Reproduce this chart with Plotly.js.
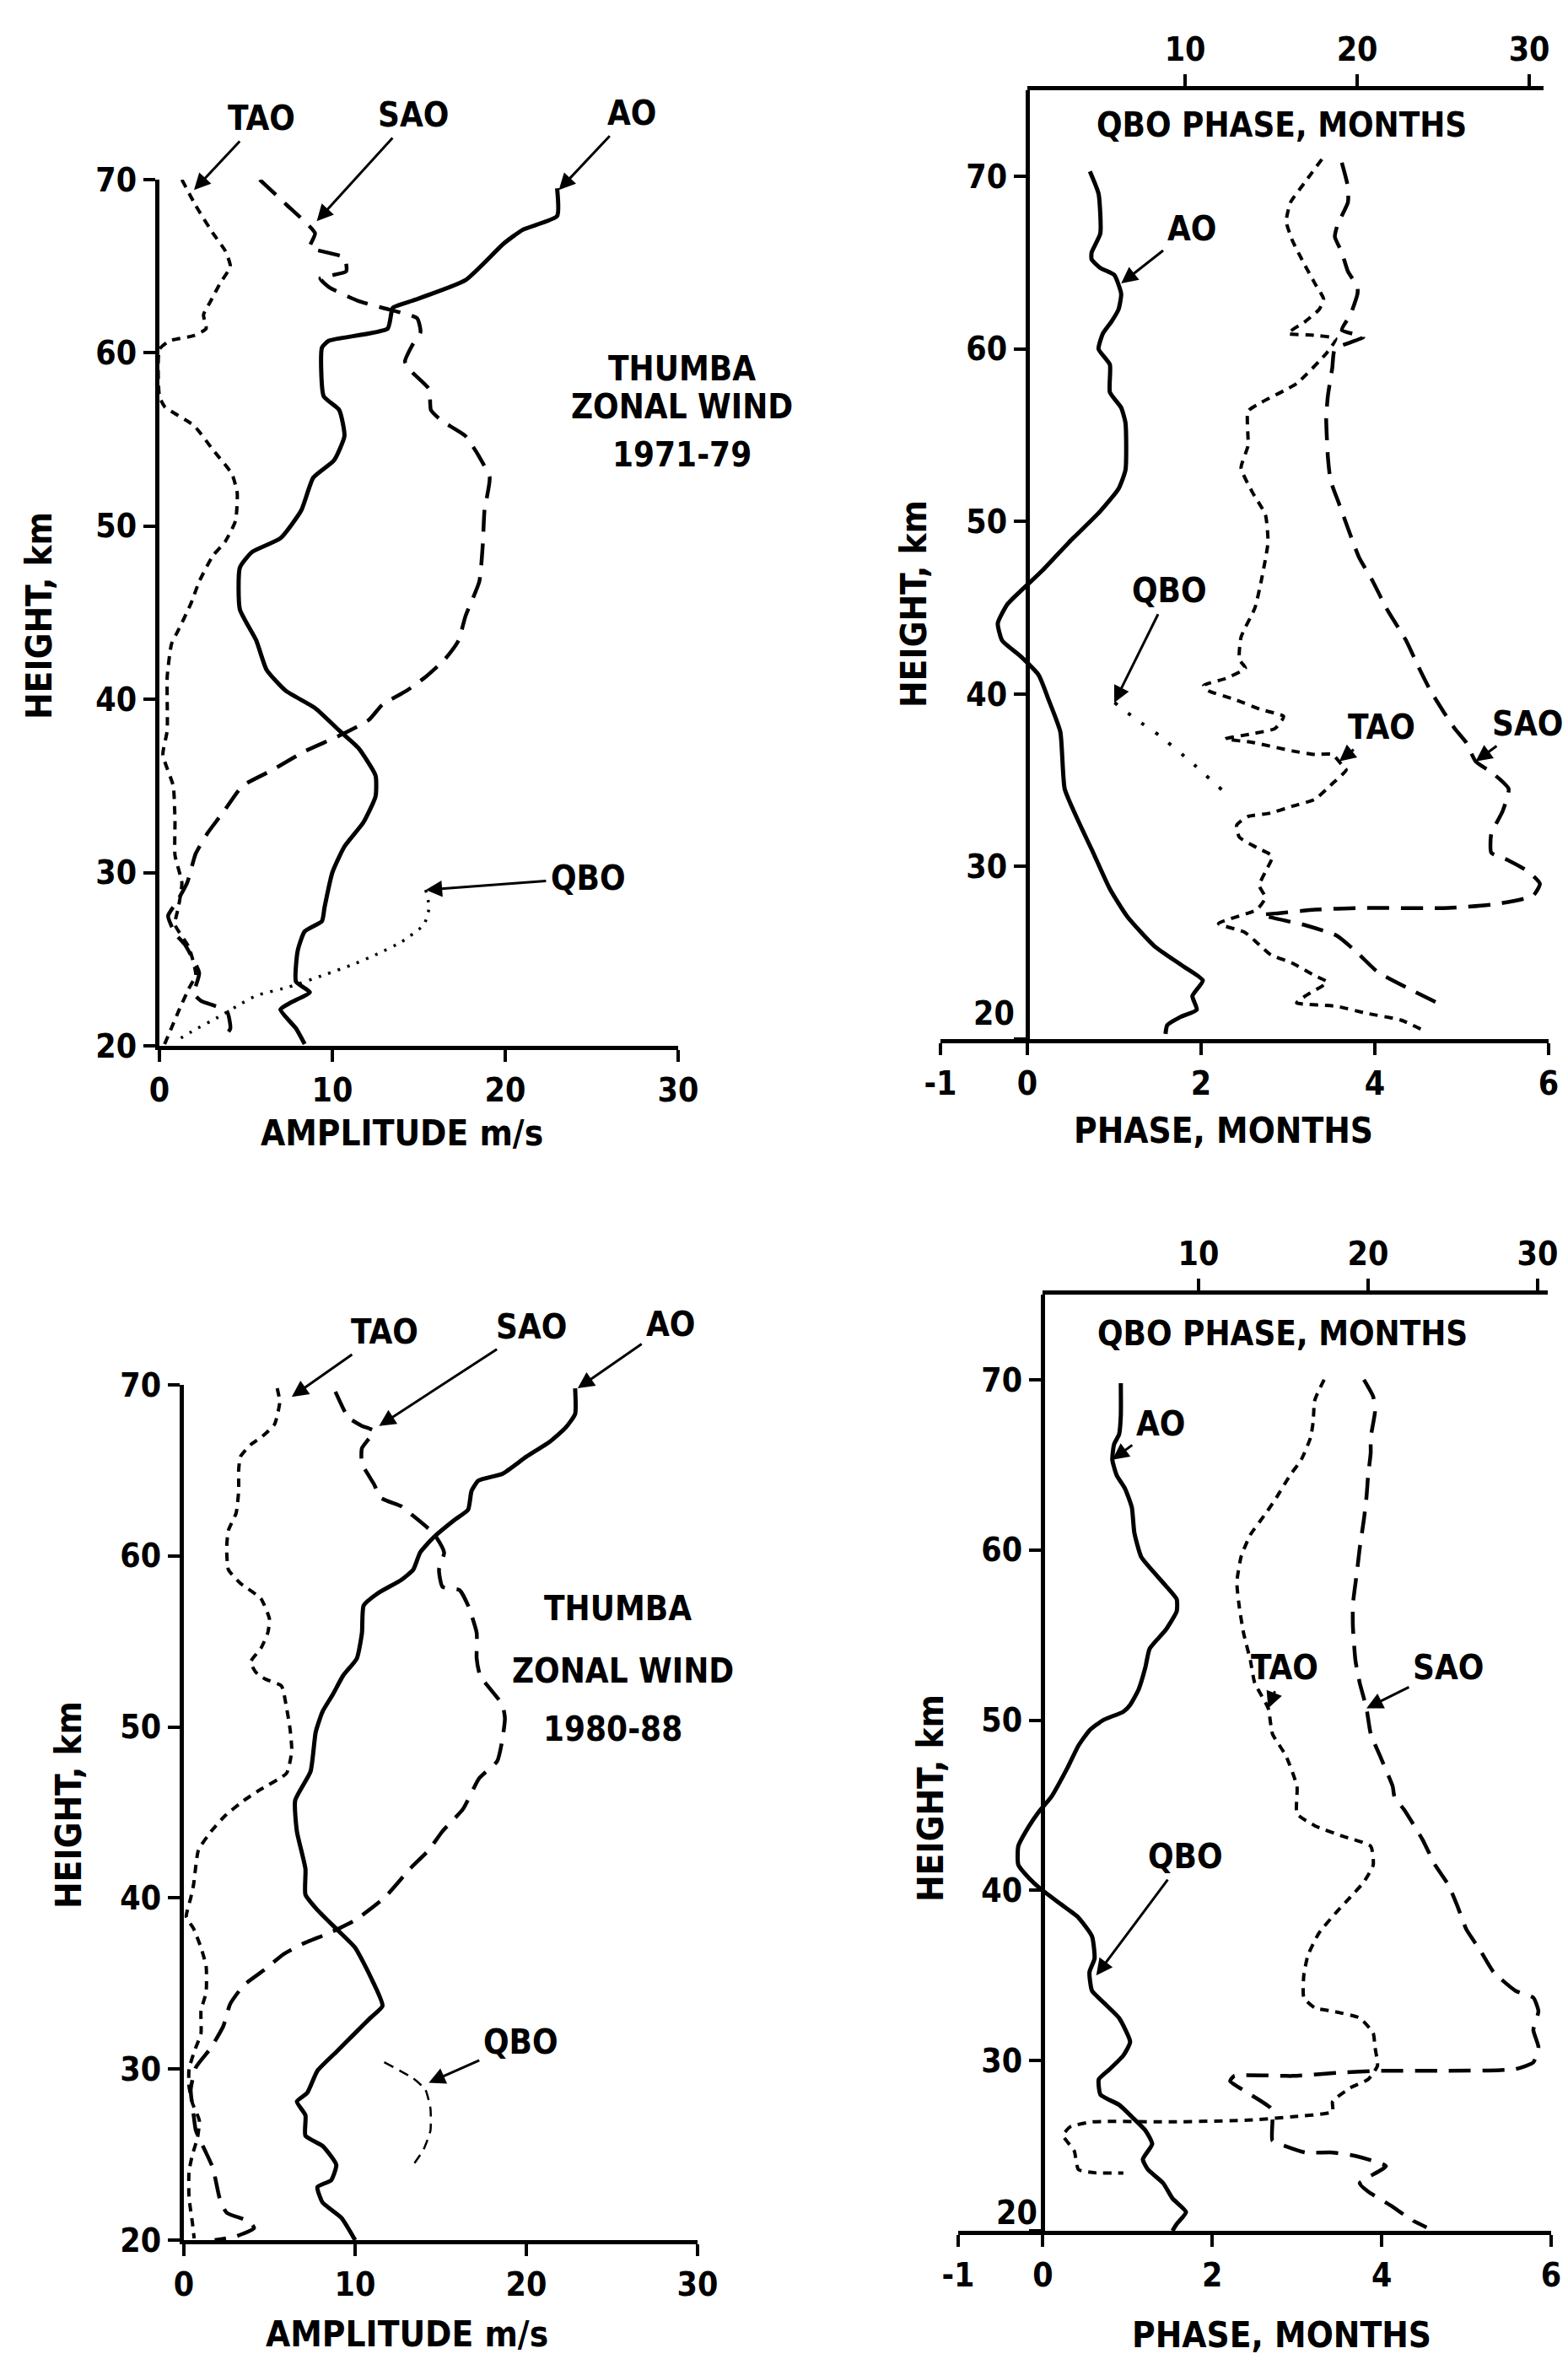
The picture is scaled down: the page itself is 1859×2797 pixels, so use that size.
<!DOCTYPE html>
<html><head><meta charset="utf-8">
<script src="https://cdn.plot.ly/plotly-3.0.1.min.js"></script>
<style>html,body{margin:0;padding:0;background:#fff}</style>
</head><body><div id="chart" style="width:1859px;height:2797px"></div>
<script>
// ---------- Panel 1: THUMBA zonal wind 1971-79, amplitude (m/s) vs height (km)
const p1_AO_amp = [23.0,23.0,21.0,19.9,17.7,14.6,13.5,13.2,9.8,9.4,9.5,10.4,10.7,10.1,8.9,8.2,7.0,5.35,4.65,4.65,5.6,6.2,7.3,9.0,10.4,11.5,12.5,12.5,11.8,10.7,10.0,9.55,9.4,8.4,8.0,7.9,8.7,7.6,7.0,7.9,8.4];
const p1_AO_km  = [69.5,67.9,67.1,66.3,64.2,63.0,62.6,61.4,60.7,60.3,57.5,56.7,55.2,53.8,52.8,50.9,49.3,48.5,47.6,45.2,43.4,41.7,40.5,39.5,38.2,37.2,35.6,34.4,32.9,31.5,30.0,28.0,27.2,26.6,25.5,23.7,23.1,22.5,22.1,21.0,20.1];
const p1_SAO_amp = [5.8,7.3,9.0,8.7,10.7,10.8,9.3,9.8,11.5,12.9,14.9,15.1,14.6,14.2,14.6,15.6,15.7,16.3,17.7,18.5,19.1,18.8,18.7,18.5,17.7,17.3,16.5,15.4,14.3,12.9,12.1,10.4,8.4,6.5,4.8,3.7,2.8,2.1,1.6,1.0,0.5,0.9,1.5,2.3,2.0,2.4,3.9,4.1,3.6];
const p1_SAO_km  = [70.0,68.6,66.9,66.1,65.5,64.7,64.3,63.8,63.0,62.6,62.0,61.2,60.4,59.5,58.9,57.9,56.7,56.1,55.2,54.0,52.8,50.9,48.9,46.8,44.8,43.4,42.3,41.3,40.5,39.7,38.8,37.9,37.0,35.9,35.0,33.5,32.3,31.1,29.4,28.3,27.5,26.5,25.8,24.2,23.0,22.6,22.0,21.0,20.3];
const p1_TAO_amp = [1.3,2.1,3.1,3.8,4.1,3.5,2.97,2.55,2.7,2.0,0.6,0.0,0.0,0.3,2.0,3.1,4.2,4.5,4.4,3.8,3.1,2.3,1.85,1.15,0.7,0.45,0.45,0.2,0.8,0.9,0.9,1.3,1.1,0.9,1.7,2.1,1.7,1.15,0.6,0.3];
const p1_TAO_km  = [70.0,68.5,66.9,65.9,65.0,64.0,63.0,62.2,61.4,61.0,60.7,60.2,57.5,56.9,55.8,54.4,53.0,51.9,50.3,49.1,48.3,46.8,45.6,44.1,43.2,41.3,38.2,36.8,35.0,33.0,31.0,29.4,28.0,27.0,25.7,24.1,23.3,22.1,20.8,20.1];
const p1_QBO_amp = [15.4,15.6,15.3,14.0,12.6,11.2,9.55,7.5,5.6,4.5,3.3,2.0,1.0];
const p1_QBO_km  = [29.0,28.0,27.0,26.0,25.3,24.7,24.1,23.4,22.9,22.3,21.6,20.9,20.3];

// ---------- Panel 2: phase (months) vs height, 1971-79
const p2_AO_mon = [0.72,0.82,0.84,0.74,0.74,0.84,1.0,1.08,1.05,0.97,0.87,0.82,0.95,0.95,1.08,1.13,1.13,1.05,0.84,0.48,0.18,-0.05,-0.23,-0.34,-0.29,-0.08,0.13,0.25,0.38,0.43,0.59,0.74,0.95,1.15,1.46,1.77,2.02,1.9,1.95,1.77,1.61,1.59];
const p2_AO_km  = [70.3,69.0,66.7,65.6,65.2,64.7,64.3,63.2,62.3,61.6,60.9,60.0,59.1,57.5,56.6,55.7,53.0,51.9,50.6,48.8,47.2,46.1,45.2,44.1,43.1,42.2,41.1,39.6,37.8,34.5,32.6,31.0,28.7,27.1,25.4,24.3,23.4,22.5,21.7,21.3,20.8,20.3];
const p2_TAO_mon = [3.39,3.2,3.03,2.98,3.05,3.18,3.31,3.41,3.36,3.2,3.0,3.3,3.55,3.45,3.1,2.69,2.54,2.54,2.46,2.59,2.74,2.77,2.69,2.62,2.46,2.44,2.51,2.28,2.03,2.08,2.38,2.69,2.95,2.85,2.59,2.28,2.59,3.05,3.31,3.51,3.62,3.67,3.51,3.31,3.05,2.8,2.54,2.41,2.44,2.64,2.82,2.74,2.67,2.74,2.64,2.2,2.5,2.64,2.8,3.05,3.3,3.45,3.2,3.1,3.56,3.9,4.3,4.6];
const p2_TAO_km  = [71.0,69.7,68.5,67.4,66.3,65.0,63.8,62.9,62.3,61.6,60.9,60.8,60.6,59.8,58.0,56.9,56.4,54.4,53.1,51.7,50.4,48.8,46.5,45.0,43.3,42.0,41.5,40.9,40.5,40.2,39.7,39.1,38.7,38.0,37.7,37.4,37.2,36.7,36.5,36.5,35.9,35.6,34.8,33.9,33.5,33.1,32.9,32.4,31.7,31.1,30.6,29.7,28.9,28.2,27.5,26.7,26.2,25.6,24.9,24.4,23.7,23.3,22.5,22.1,21.9,21.5,21.1,20.4];
const p2_SAO_mon = [3.62,3.69,3.69,3.57,3.54,3.62,3.69,3.8,3.8,3.72,3.62,3.87,3.54,3.51,3.46,3.44,3.46,3.49,3.59,3.72,3.82,3.98,4.13,4.36,4.49,4.64,4.8,4.92,5.05,5.16,5.36,5.54,5.47,5.34,5.34,5.52,5.77,5.9,5.82,5.36,4.85,3.82,3.31,2.9,2.7,3.2,3.56,3.8,4.03,4.44,4.8];
const p2_SAO_km  = [70.8,69.4,68.5,67.2,66.5,65.6,64.5,63.6,63.2,62.0,61.1,60.7,60.0,58.9,57.3,56.0,53.7,52.4,51.0,49.2,47.9,46.5,45.0,43.1,41.7,40.2,38.9,38.0,37.2,36.1,35.4,34.5,33.2,31.9,30.8,30.4,29.7,29.0,28.3,27.8,27.6,27.6,27.5,27.3,27.2,26.6,26.0,25.0,23.9,22.8,21.9];
const p2_QBO_mon = [5.9,7.2,8.5,10.3,12.3];   // QBO phase, months (top axis)
const p2_QBO_km  = [39.5,38.5,37.6,36.1,34.3];

// ---------- Panel 3: THUMBA zonal wind 1980-88, amplitude
const p3_AO_amp = [22.85,22.85,22.3,21.4,20.0,18.6,17.2,16.8,16.6,15.8,14.6,13.8,13.4,12.7,11.3,10.5,10.4,10.1,9.3,8.7,8.1,7.7,7.4,6.5,6.6,7.1,7.1,7.8,8.9,10.0,10.9,11.6,10.9,10.0,8.9,7.8,7.2,6.6,7.1,7.1,8.1,8.9,8.6,7.8,8.1,9.2,10.0];
const p3_AO_km  = [69.8,68.3,67.5,66.7,65.8,64.8,64.4,63.8,62.7,62.1,61.1,60.2,59.2,58.6,57.8,57.1,55.5,54.0,53.0,51.9,50.9,49.7,47.4,45.7,43.9,41.7,40.2,39.3,38.2,37.1,35.4,33.7,33.0,32.1,31.0,29.9,28.6,28.1,27.3,26.1,25.5,24.4,23.5,23.1,22.2,21.3,20.0];
const p3_SAO_amp = [8.85,9.6,10.4,11.1,10.4,10.4,11.1,11.5,12.7,13.2,14.6,15.2,14.9,15.1,16.1,16.6,17.1,17.1,17.3,18.6,18.75,18.6,18.3,17.25,16.3,15.1,14.3,13.2,11.7,10.0,8.6,6.9,5.8,4.7,3.5,2.7,2.3,1.55,0.7,0.4,0.57,0.7,1.3,1.7,2.1,2.5,3.8,4.1,3.0,1.8];
const p3_SAO_km  = [69.6,68.1,67.6,67.3,66.3,65.4,64.2,63.4,62.9,62.5,61.3,60.2,59.2,58.2,58.0,57.1,55.5,54.0,53.0,51.3,50.5,49.25,48.0,47.0,45.2,43.9,42.8,41.7,40.0,38.7,38.0,37.3,36.7,35.8,34.9,33.8,32.5,31.2,30.1,28.8,27.3,26.4,25.1,24.2,22.4,21.6,21.1,20.7,20.2,20.0];
const p3_TAO_amp = [5.45,5.6,5.3,4.6,3.9,3.3,3.2,3.2,3.05,2.6,2.5,2.6,3.3,4.5,5.0,4.9,4.5,3.9,4.2,4.75,5.7,6.0,6.2,6.3,6.0,4.4,3.5,2.4,1.6,0.85,0.57,0.4,0.14,0.57,1.0,1.3,1.3,1.0,1.0,0.6,0.3,0.3,0.5,0.9,0.8,0.5,0.3,0.3,0.5,0.6];
const p3_TAO_km  = [69.8,69.0,67.7,67.0,66.5,65.8,65.0,63.8,62.5,61.5,60.5,59.2,58.4,57.5,56.3,55.5,54.6,53.8,53.2,52.8,52.4,51.1,49.9,48.6,47.3,46.3,45.7,44.8,43.9,42.8,40.8,40.0,38.9,38.2,37.1,36.0,34.5,33.4,32.1,31.0,30.0,29.0,28.0,27.0,26.0,25.0,24.0,22.5,21.0,20.1];
const p3_QBO_amp = [11.7,13.4,14.1,14.4,14.4,14.0,13.4];
const p3_QBO_km  = [30.4,29.45,28.8,27.7,26.4,25.3,24.4];

// ---------- Panel 4: phase (months) vs height, 1980-88
const p4_AO_mon = [0.92,0.92,0.9,0.84,0.82,0.87,0.97,1.05,1.08,1.16,1.29,1.45,1.58,1.58,1.45,1.26,1.21,1.13,1.03,0.95,0.71,0.55,0.42,0.29,0.1,-0.05,-0.16,-0.29,-0.29,-0.16,-0.03,0.21,0.42,0.58,0.61,0.55,0.58,0.74,0.9,1.03,0.95,0.79,0.66,0.68,0.9,1.05,1.21,1.29,1.18,1.24,1.42,1.53,1.69,1.58,1.53];
const p4_AO_km  = [69.8,67.9,66.8,66.2,65.3,64.4,63.6,62.5,61.0,59.6,58.8,57.9,57.1,56.4,55.3,54.2,53.1,51.8,50.9,50.5,50.0,49.4,48.5,47.2,45.5,44.6,43.8,42.6,41.5,40.7,40.1,39.2,38.4,37.3,36.0,35.2,34.1,33.3,32.5,31.1,30.3,29.5,28.9,28.0,27.4,26.7,25.9,25.1,24.2,23.6,22.8,21.9,21.1,20.4,20.0];
const p4_TAO_mon = [3.32,3.21,3.19,3.16,3.05,2.92,2.76,2.61,2.45,2.34,2.29,2.32,2.37,2.45,2.5,2.66,2.71,2.87,3.0,3.0,3.21,3.53,3.87,3.9,3.79,3.63,3.48,3.26,3.13,3.08,3.08,3.21,3.42,3.74,3.9,3.92,3.95,3.84,3.63,3.42,3.42,2.95,2.42,1.53,0.58,0.32,0.24,0.37,0.42,0.63,0.95];
const p4_TAO_km  = [70.0,68.8,67.5,66.6,65.3,64.4,63.1,62.0,60.9,59.6,58.1,56.6,55.1,53.5,52.2,50.7,49.2,47.9,46.1,44.5,43.8,43.2,42.6,41.5,40.5,39.6,38.8,37.5,36.2,35.0,33.7,33.1,32.9,32.5,31.6,30.8,29.7,28.9,28.4,27.6,27.0,26.7,26.5,26.4,26.4,26.1,25.6,24.7,23.6,23.4,23.4];
const p4_SAO_mon = [3.79,3.9,3.92,3.87,3.87,3.84,3.82,3.79,3.74,3.71,3.66,3.66,3.69,3.74,3.82,3.87,3.98,4.13,4.15,4.27,4.48,4.63,4.79,4.9,5.0,5.16,5.32,5.58,5.79,5.85,5.79,5.85,5.79,5.58,4.79,3.95,3.53,2.95,2.26,2.21,2.42,2.69,2.71,2.71,2.85,3.1,3.42,3.69,4.05,3.74,3.84,4.1,4.37,4.53];
const p4_SAO_km  = [70.0,69.0,68.1,66.6,65.7,64.4,63.1,61.8,60.1,58.8,56.8,55.5,53.5,52.2,50.7,49.2,47.9,46.1,45.5,44.7,43.0,41.5,40.3,39.0,37.7,36.5,35.2,34.1,33.7,32.9,31.8,30.8,29.9,29.5,29.4,29.4,29.3,29.1,29.1,28.8,28.1,27.2,26.5,25.3,25.0,24.6,24.6,24.4,23.8,22.8,22.3,21.5,20.6,20.2];

// ---------- tick labels
const heightTicks = [20,30,40,50,60,70];
const heightTickText = ['20','30','40','50','60','70'];
const phaseHeightTickText = ['','30','40','50','60','70'];   // "20" sits above the axis corner
const ampTicks = [0,10,20,30];
const phaseTicks = [-1,0,2,4,6];
const phaseTickText = ['-1','0','2','4','6'];
const qboTicks = [10,20,30];

// ---------- styling / layout
const W = 1859, H = 2797;
const FAM = 'DejaVu Sans Condensed, DejaVu Sans, sans-serif';
const K = '#000';
const fnt = (s) => ({family: FAM, size: s, color: K, weight: 'bold'});
const px = (v) => v / W, py = (v) => 1 - v / H;

const STY = {
  AO:  {color: K, width: 5, dash: 'solid'},
  SAO: {color: K, width: 4.5, dash: '26px,14px'},
  TAO: {color: K, width: 4, dash: '10px,8px'},
  QBOdot: {color: K, width: 3.5, dash: '3px,9px'},
  QBOdot2: {color: K, width: 4, dash: '4px,16px'},
  QBOdash: {color: K, width: 2.5, dash: '12px,8px'}
};
function tr(x, y, xa, ya, st) {
  return {type: 'scatter', mode: 'lines', x: x, y: y, xaxis: xa, yaxis: ya,
          line: Object.assign({shape: 'spline', smoothing: 0.5}, st),
          hoverinfo: 'skip', showlegend: false};
}
const data = [
  tr(p1_AO_amp, p1_AO_km, 'x', 'y', STY.AO),
  tr(p1_SAO_amp, p1_SAO_km, 'x', 'y', STY.SAO),
  tr(p1_TAO_amp, p1_TAO_km, 'x', 'y', STY.TAO),
  tr(p1_QBO_amp, p1_QBO_km, 'x', 'y', STY.QBOdot),
  tr(p2_AO_mon, p2_AO_km, 'x2', 'y2', STY.AO),
  tr(p2_SAO_mon, p2_SAO_km, 'x2', 'y2', STY.SAO),
  tr(p2_TAO_mon, p2_TAO_km, 'x2', 'y2', STY.TAO),
  tr(p2_QBO_mon, p2_QBO_km, 'x5', 'y2', STY.QBOdot2),
  tr(p3_AO_amp, p3_AO_km, 'x3', 'y3', STY.AO),
  tr(p3_SAO_amp, p3_SAO_km, 'x3', 'y3', STY.SAO),
  tr(p3_TAO_amp, p3_TAO_km, 'x3', 'y3', STY.TAO),
  tr(p3_QBO_amp, p3_QBO_km, 'x3', 'y3', STY.QBOdash),
  tr(p4_AO_mon, p4_AO_km, 'x4', 'y4', STY.AO),
  tr(p4_SAO_mon, p4_SAO_km, 'x4', 'y4', STY.SAO),
  tr(p4_TAO_mon, p4_TAO_km, 'x4', 'y4', STY.TAO),
  tr([], [], 'x6', 'y4', STY.QBOdot2)
];

function ax(extra) {
  return Object.assign({showline: true, linewidth: 5, linecolor: K, ticks: 'outside',
    ticklen: 14, tickwidth: 4, tickcolor: K, showgrid: false, zeroline: false,
    tickfont: fnt(39), fixedrange: true, tickmode: 'array'}, extra);
}

const layout = {
  width: W, height: H, autosize: false,
  margin: {l: 0, r: 0, t: 0, b: 0, pad: 0},
  paper_bgcolor: '#fff', plot_bgcolor: 'rgba(0,0,0,0)',
  showlegend: false,
  xaxis:  ax({domain: [px(189), px(804)], range: [0, 30], tickvals: ampTicks, anchor: 'y'}),
  yaxis:  ax({domain: [py(1240), py(213)], range: [20, 70], tickvals: heightTicks, ticktext: heightTickText, anchor: 'x'}),
  xaxis2: ax({domain: [px(1115), px(1836)], range: [-1, 6], tickvals: phaseTicks, ticktext: phaseTickText, anchor: 'y2'}),
  yaxis2: ax({domain: [py(1232), py(107)], range: [20, 75], tickvals: heightTicks, ticktext: phaseHeightTickText, anchor: 'free', position: px(1218)}),
  xaxis5: ax({domain: [px(1218), px(1830)], range: [0.83, 30.83], tickvals: qboTicks, anchor: 'y2', side: 'top'}),
  xaxis3: ax({domain: [px(218), px(827)], range: [0, 30], tickvals: ampTicks, anchor: 'y3'}),
  yaxis3: ax({domain: [py(2656), py(1642)], range: [20, 70], tickvals: heightTicks, ticktext: heightTickText, anchor: 'x3'}),
  xaxis4: ax({domain: [px(1136), px(1839)], range: [-1, 6], tickvals: phaseTicks, ticktext: phaseTickText, anchor: 'y4'}),
  yaxis4: ax({domain: [py(2645), py(1535)], range: [20, 75], tickvals: heightTicks, ticktext: phaseHeightTickText, anchor: 'free', position: px(1236)}),
  xaxis6: ax({domain: [px(1236), px(1835)], range: [0.8, 30.6], tickvals: qboTicks, anchor: 'y4', side: 'top'}),
  annotations: []
};

const A = layout.annotations;
function label(xr, yr, text, tx, ty, hx, hy) {
  const a = {xref: xr, yref: yr, text: text, font: fnt(40), xanchor: 'center', yanchor: 'middle'};
  if (hx === undefined) {
    Object.assign(a, {x: tx, y: ty, showarrow: false});
  } else {
    Object.assign(a, {x: hx, y: hy, ax: tx, ay: ty, axref: xr, ayref: yr, showarrow: true,
      arrowhead: 2, arrowsize: 1.3, arrowwidth: 3, arrowcolor: K, standoff: 0, startstandoff: 4});
  }
  A.push(a);
}
function paperText(text, x, y, size, angle) {
  A.push({xref: 'paper', yref: 'paper', x: px(x), y: py(y), text: text, showarrow: false,
    font: fnt(size), xanchor: 'center', yanchor: 'middle', textangle: angle || 0});
}

// Panel 1 labels
label('x', 'y', 'TAO', 5.9, 73.55, 2.0, 69.4);
label('x', 'y', 'SAO', 14.7, 73.75, 9.1, 67.6);
label('x', 'y', 'AO', 27.3, 73.85, 23.1, 69.4);
label('x', 'y', 'QBO', 24.8, 29.7, 15.4, 29.0);
paperText('THUMBA', 808, 437, 40);
paperText('ZONAL WIND', 808, 482, 40);
paperText('1971-79', 808, 539, 40);
// Panel 2 labels
label('x2', 'y2', 'AO', 1.89, 67.0, 1.08, 63.8);
label('x2', 'y2', 'QBO', 1.64, 46.0, 1.0, 39.5);
label('x2', 'y2', 'TAO', 4.08, 38.1, 3.59, 36.1);
label('x2', 'y2', 'SAO', 5.76, 38.3, 5.16, 36.1);
label('x2', 'y2', 'QBO PHASE, MONTHS', 2.93, 73.0);
paperText('20', 1178, 1202, 39);
// Panel 3 labels
label('x3', 'y3', 'TAO', 11.7, 73.1, 6.3, 69.3);
label('x3', 'y3', 'SAO', 20.3, 73.4, 11.4, 67.6);
label('x3', 'y3', 'AO', 28.4, 73.55, 23.0, 69.8);
label('x3', 'y3', 'QBO', 19.7, 31.6, 14.3, 29.2);
paperText('THUMBA', 732, 1907, 40);
paperText('ZONAL WIND', 738, 1981, 40);
paperText('1980-88', 726, 2050, 40);
// Panel 4 labels
label('x4', 'y4', 'AO', 1.39, 67.4, 0.82, 65.3);
label('x4', 'y4', 'TAO', 2.85, 53.1, 2.66, 50.7);
label('x4', 'y4', 'SAO', 4.79, 53.1, 3.82, 50.7);
label('x4', 'y4', 'QBO', 1.68, 42.0, 0.63, 35.0);
label('x4', 'y4', 'QBO PHASE, MONTHS', 2.83, 72.7);
paperText('20', 1205, 2623, 39);

// Axis titles
paperText('AMPLITUDE m/s', 476, 1343, 42);
paperText('AMPLITUDE m/s', 482, 2767, 42);
paperText('PHASE, MONTHS', 1450, 1340, 42);
paperText('PHASE, MONTHS', 1519, 2768, 42);
paperText('HEIGHT, km', 46, 730, 42, -90);
paperText('HEIGHT, km', 81, 2140, 42, -90);
paperText('HEIGHT, km', 1083, 716, 42, -90);
paperText('HEIGHT, km', 1103, 2132, 42, -90);

Plotly.newPlot('chart', data, layout, {staticPlot: true, displayModeBar: false});
</script></body></html>
